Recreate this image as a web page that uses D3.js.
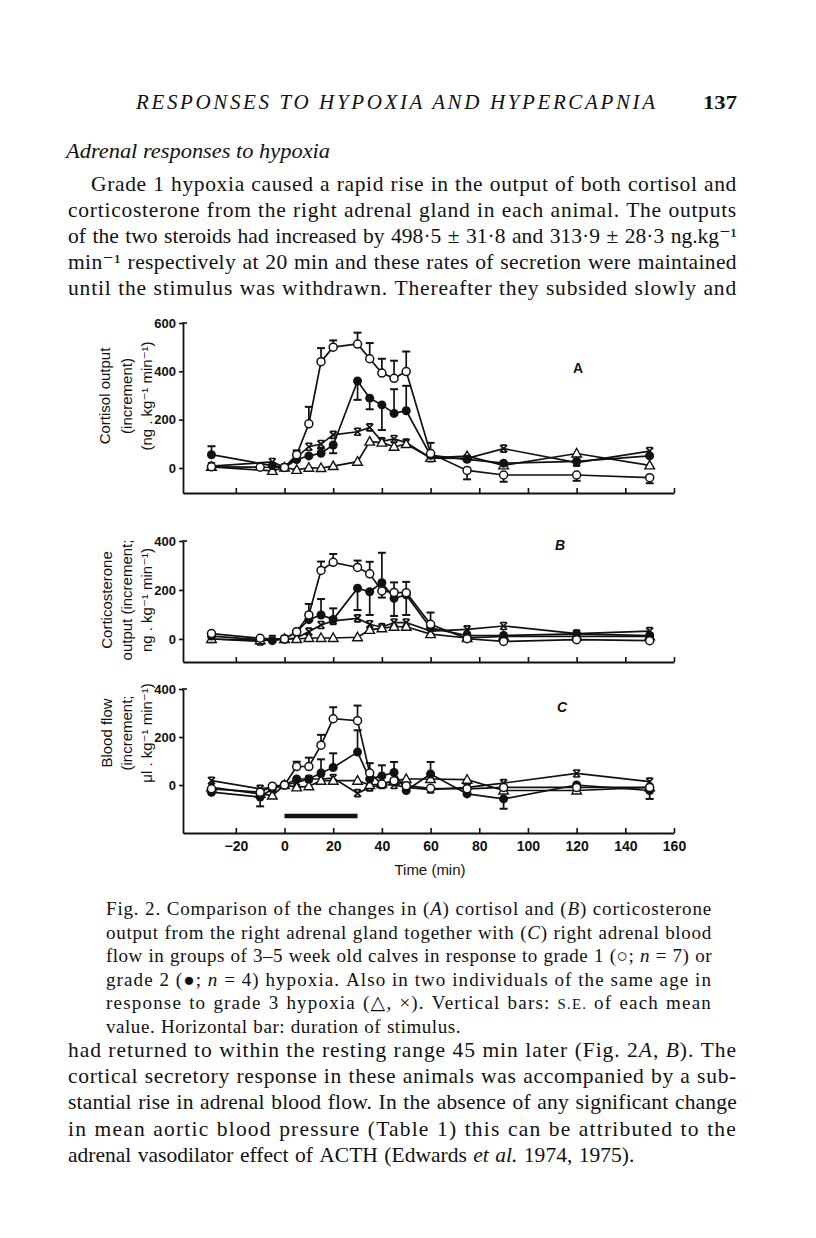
<!DOCTYPE html>
<html><head><meta charset="utf-8">
<script src="https://cdn.jsdelivr.net/npm/d3@7"></script>
<style>body{margin:0;background:#fff} svg{display:block}</style>
</head><body>
<svg id="page" width="816" height="1238"></svg>
<script>
// ---------- DATA ----------
const times = [-30,-10,-5,0,5,10,15,20,30,35,40,45,50,60,75,90,120,150];
const xTickValues = [-20,0,20,40,60,80,100,120,140,160];
const yTicksA = [0,200,400,600];
const yTicksB = [0,200,400];
const yTicksC = [0,200,400];
const stimulus = [0,30];

// Panel A: cortisol output
const cortisolG1   = [5, 3, null, 2, 55, 183, 440, 500, 513, 452, 393, 371, 399, 60, -10, -29, -29, -40];
const cortisolG1se = [0, 0, 0, 0, 18, 70, 56, 28, 47, 65, 59, 73, 83, 44, -37, -28, -24, -23];
const cortisolG2   = [55, null, 10, 2, 35, 50, 61, 95, 360, 289, 261, 226, 237, 52, 36, 20, 27, 50];
const cortisolG2se = [35, 0, 0, 0, 0, 0, 20, -34, -78, -46, -104, 100, 103, 0, 0, 0, 0, 0];
const cortisolG3a  = [5, null, -12, 2, -8, 1, 0, 8, 26, 109, 105, 88, 99, 42, 49, 11, 60, 11];   // triangle
const cortisolG3b  = [8, null, 25, 3, 45, 88, 99, 137, 150, 168, 110, 120, 105, 41, 40, 80, 22, 70]; // cross

// Panel B: corticosterone output
const corticoG1   = [22, 3, null, 0, 30, 98, 280, 313, 292, 266, 196, 190, 189, 60, 1, -10, -3, -7];
const corticoG1se = [0, 0, 0, 0, 0, 45, 36, 34, 28, 49, -27, 41, 44, 48, 0, 0, 0, 0];
const corticoG2   = [12, null, -7, 0, 30, 79, 98, 80, 207, 193, 230, 166, 180, 45, 14, 14, 21, 14];
const corticoG2se = [0, 0, 0, 0, 0, 0, 65, 45, -89, -95, 122, -72, -82, 0, 0, 0, 0, 0];
const corticoG3a  = [0, -5, null, 0, 0, 4, 4, 4, 7, 37, 44, 50, 50, 20, 4, 11, 11, 11];
const corticoG3b  = [0, -10, 0, 0, 4, 30, 57, 74, 84, 60, 48, 67, 67, 32, 39, 53, 22, 32];

// Panel C: blood flow
const flowG1   = [-16, -30, -5, 0, 77, 77, 166, 276, 268, 50, 4, 18, -3, -14, -16, -10, -10, -10];
const flowG1se = [0, 0, 0, 0, 20, 37, 43, 48, 63, 41, 0, 0, 0, 0, 0, 0, 0, 0];
const flowG2   = [-30, -50, -16, 0, 25, 25, 50, 73, 137, 25, 38, 52, -23, 46, -37, -58, 0, -23];
const flowG2se = [0, -39, 0, 0, 0, 0, 57, 59, 91, 0, 44, 44, 0, 50, 0, -41, 0, -35];
const flowG3a  = [-10, -37, -44, 0, -10, -5, 18, 18, 18, 0, 4, 18, 25, 25, 22, -23, -23, -10];
const flowG3b  = [18, -16, -10, 0, 11, 25, 25, 29, -34, -10, 0, 0, -10, -19, -10, 8, 48, 14];

// ---------- PAGE TEXT ----------
const svg = d3.select('#page');
const serif = '"Liberation Serif","DejaVu Serif",serif';
const sans = '"Liberation Sans","DejaVu Sans",sans-serif';

function fillWord(t, word, size){
  const parts = word.split(/(\*[^*]+\*|~[^~]+~)/).filter(s=>s.length);
  let n = 0;
  parts.forEach(p=>{
    const ts = t.append('tspan');
    if(p[0]==='*'){ ts.style('font-style','italic').text(p.slice(1,-1)); n += p.length-2; }
    else if(p[0]==='~'){ ts.style('font-size',(size*0.78)+'px').text(p.slice(1,-1).toUpperCase()); n += p.length-2; }
    else { ts.text(p); n += p.length; }
  });
  return n;
}
function textLine(x0, x1, y, str, size, justify, italic, fixedLs){
  const g = svg.append('g');
  const words = str.split(' ');
  let chars = 0;
  const nodes = words.map(w=>{
    const t = g.append('text').attr('y',y).style('font-family',serif).style('font-size',size+'px').attr('fill','#111');
    if(italic) t.style('font-style','italic');
    chars += fillWord(t,w,size);
    return t;
  });
  let widths = nodes.map(n=>n.node().getComputedTextLength());
  const g0 = size*0.3;
  let ls = fixedLs || 0;
  if(justify && words.length>1){
    ls = (x1-x0-d3.sum(widths)-(words.length-1)*g0)/chars;
    ls = Math.max(-0.6, Math.min(1.2, ls));
  }
  nodes.forEach(n=>n.style('letter-spacing', ls+'px'));
  widths = nodes.map(n=>n.node().getComputedTextLength());
  const total = d3.sum(widths);
  const gap = (justify && words.length>1) ? (x1-x0-total)/(words.length-1) : g0;
  let x = x0;
  nodes.forEach((n,i)=>{ n.attr('x',x); x += widths[i]+gap; });
}

svg.append('text').attr('x',136).attr('y',109).attr('textLength',519).attr('lengthAdjust','spacing')
  .style('font-family',serif).style('font-style','italic').style('font-size','21px').attr('fill','#111')
  .text('RESPONSES TO HYPOXIA AND HYPERCAPNIA');
svg.append('text').attr('x',703).attr('y',109).attr('textLength',34).attr('lengthAdjust','spacingAndGlyphs')
  .style('font-family',serif).style('font-weight','bold').style('font-size','19px').attr('fill','#111').text('137');

svg.append('text').attr('x',66).attr('y',158).attr('textLength',264).attr('lengthAdjust','spacingAndGlyphs')
  .style('font-family',serif).style('font-style','italic').style('font-size','22px').attr('fill','#111')
  .text('Adrenal responses to hypoxia');

const bodyTop = [
  'Grade 1 hypoxia caused a rapid rise in the output of both cortisol and',
  'corticosterone from the right adrenal gland in each animal. The outputs',
  'of the two steroids had increased by 498·5 ± 31·8 and 313·9 ± 28·3 ng.kg⁻¹',
  'min⁻¹ respectively at 20 min and these rates of secretion were maintained',
  'until the stimulus was withdrawn. Thereafter they subsided slowly and'
];
bodyTop.forEach((l,i)=>textLine(i===0?91:68, 737, 191+i*26, l, 21.5, true));

const caption = [
  'Fig. 2. Comparison of the changes in (*A*) cortisol and (*B*) corticosterone',
  'output from the right adrenal gland together with (*C*) right adrenal blood',
  'flow in groups of 3–5 week old calves in response to grade 1 (○; *n* = 7) or',
  'grade 2 (●; *n* = 4) hypoxia. Also in two individuals of the same age in',
  'response to grade 3 hypoxia (△, ×). Vertical bars: ~s.e.~ of each mean',
  'value. Horizontal bar: duration of stimulus.'
];
caption.forEach((l,i)=>textLine(106, 712, 915+i*23.6, l, 19, i<caption.length-1, false, 0.55));

const bodyBottom = [
  'had returned to within the resting range 45 min later (Fig. 2*A*, *B*). The',
  'cortical secretory response in these animals was accompanied by a sub-',
  'stantial rise in adrenal blood flow. In the absence of any significant change',
  'in mean aortic blood pressure (Table 1) this can be attributed to the',
  'adrenal vasodilator effect of ACTH (Edwards *et* *al.* 1974, 1975).'
];
bodyBottom.forEach((l,i)=>textLine(68, 737, 1057+i*26.2, l, 21.5, i<bodyBottom.length-1, false, 0.01));

// ---------- CHARTS ----------
const x = d3.scaleLinear().domain([-41.7,160]).range([183,674]);
const panels = [
  {letter:'A', lx:578, ly:373, y:d3.scaleLinear().domain([-103.5,600]).range([493,323]), ticks:yTicksA,
   title:['Cortisol output','(increment)','(ng . kg⁻¹ min⁻¹)'], tx:[104,126,146], cy:396,
   series:[{v:cortisolG3b,m:'x'},{v:cortisolG3a,m:'tri'},{v:cortisolG2,se:cortisolG2se,m:'fill'},{v:cortisolG1,se:cortisolG1se,m:'open'}]},
  {letter:'B', lx:560, ly:550, y:d3.scaleLinear().domain([-94,400]).range([662,541]), ticks:yTicksB,
   title:['Corticosterone','output (increment;','ng . kg⁻¹ min⁻¹)'], tx:[106,126,146], cy:600,
   series:[{v:corticoG3b,m:'x'},{v:corticoG3a,m:'tri'},{v:corticoG2,se:corticoG2se,m:'fill'},{v:corticoG1,se:corticoG1se,m:'open'}]},
  {letter:'C', lx:562, ly:712, y:d3.scaleLinear().domain([-200,400]).range([833,689]), ticks:yTicksC, labels:true,
   title:['Blood flow','(increment;','μl . kg⁻¹ min⁻¹)'], tx:[106,126,146], cy:733,
   series:[{v:flowG3b,m:'x'},{v:flowG3a,m:'tri'},{v:flowG2,se:flowG2se,m:'fill'},{v:flowG1,se:flowG1se,m:'open'}]}
];

const ink = '#111';
panels.forEach(p=>{
  const g = svg.append('g');
  const y = p.y;
  const ya = g.append('g').attr('transform','translate(183,0)')
    .call(d3.axisLeft(y).tickValues(p.ticks).tickSize(4).tickSizeOuter(0).tickPadding(3));
  ya.select('.domain').attr('stroke',ink).attr('stroke-width',1.8);
  ya.selectAll('.tick line').attr('stroke',ink).attr('stroke-width',1.6);
  ya.selectAll('.tick text').style('font-family',sans).style('font-weight','bold').style('font-size','13px').attr('fill',ink);
  g.append('line').attr('x1',182).attr('x2',187).attr('y1',y.range()[1]).attr('y2',y.range()[1]).attr('stroke',ink).attr('stroke-width',1.6);
  const xa = g.append('g').attr('transform',`translate(0,${y.range()[0]})`)
    .call(d3.axisBottom(x).tickValues(xTickValues).tickSize(-5).tickSizeOuter(0).tickPadding(8)
      .tickFormat(p.labels ? (d=> d<0 ? '−'+Math.abs(d) : d) : ''));
  xa.select('.domain').attr('stroke',ink).attr('stroke-width',1.8);
  xa.selectAll('.tick line').attr('stroke',ink).attr('stroke-width',1.6);
  xa.selectAll('.tick text').style('font-family',sans).style('font-weight','bold').style('font-size','14px').attr('fill',ink);
  p.title.forEach((t,i)=>{
    g.append('text').attr('transform',`translate(${p.tx[i]},${p.cy}) rotate(-90)`)
      .attr('text-anchor','middle').attr('dominant-baseline','central')
      .style('font-family',sans).style('font-size','15px').attr('fill',ink).text(t);
  });
  g.append('text').attr('x',p.lx).attr('y',p.ly).attr('text-anchor','middle')
    .style('font-family',sans).style('font-weight','bold').style('font-size','14px').style('font-style', p.letter==='A'?'normal':'italic')
    .attr('fill',ink).text(p.letter);

  p.series.forEach(s=>{
    const pts = times.map((t,i)=>({t, v:s.v[i], e:s.se?s.se[i]:0})).filter(d=>d.v!==null);
    s.pts = pts;
    g.append('path').datum(pts).attr('fill','none').attr('stroke',ink).attr('stroke-width',1.7)
      .attr('d', d3.line().x(d=>x(d.t)).y(d=>y(d.v)));
  });
  p.series.forEach(s=>{
    s.pts.filter(d=>d.e).forEach(d=>{
      const x0 = x(d.t), y0 = y(d.v), y1 = y(d.v+d.e);
      g.append('line').attr('x1',x0).attr('x2',x0).attr('y1',y0).attr('y2',y1).attr('stroke',ink).attr('stroke-width',1.7);
      g.append('line').attr('x1',x0-4).attr('x2',x0+4).attr('y1',y1).attr('y2',y1).attr('stroke',ink).attr('stroke-width',2);
    });
  });
  p.series.forEach(s=>{
    s.pts.forEach(d=>{
      const cx = x(d.t), cy = y(d.v);
      if(s.m==='open') g.append('circle').attr('cx',cx).attr('cy',cy).attr('r',4).attr('fill','#fff').attr('stroke',ink).attr('stroke-width',1.5);
      else if(s.m==='fill') g.append('circle').attr('cx',cx).attr('cy',cy).attr('r',4.5).attr('fill',ink);
      else if(s.m==='tri') g.append('path').attr('d',`M${cx},${cy-5}L${cx+4.8},${cy+3.5}L${cx-4.8},${cy+3.5}Z`).attr('fill','#fff').attr('stroke',ink).attr('stroke-width',1.4);
      else {
        g.append('path').attr('d',`M${cx-3.5},${cy-3.5}L${cx+3.5},${cy+3.5}M${cx+3.5},${cy-3.5}L${cx-3.5},${cy+3.5}M${cx-3},${cy-3.5}H${cx+3}M${cx-3},${cy+3.5}H${cx+3}`)
          .attr('stroke',ink).attr('stroke-width',1.6).attr('fill','none');
      }
    });
  });
  if(p.labels){
    g.append('line').attr('x1',x(stimulus[0])).attr('x2',x(stimulus[1])).attr('y1',816).attr('y2',816)
      .attr('stroke',ink).attr('stroke-width',4.5);
    g.append('text').attr('x',430).attr('y',875).attr('text-anchor','middle')
      .style('font-family',sans).style('font-size','15px').attr('fill',ink).text('Time (min)');
  }
});
</script>
</body></html>
